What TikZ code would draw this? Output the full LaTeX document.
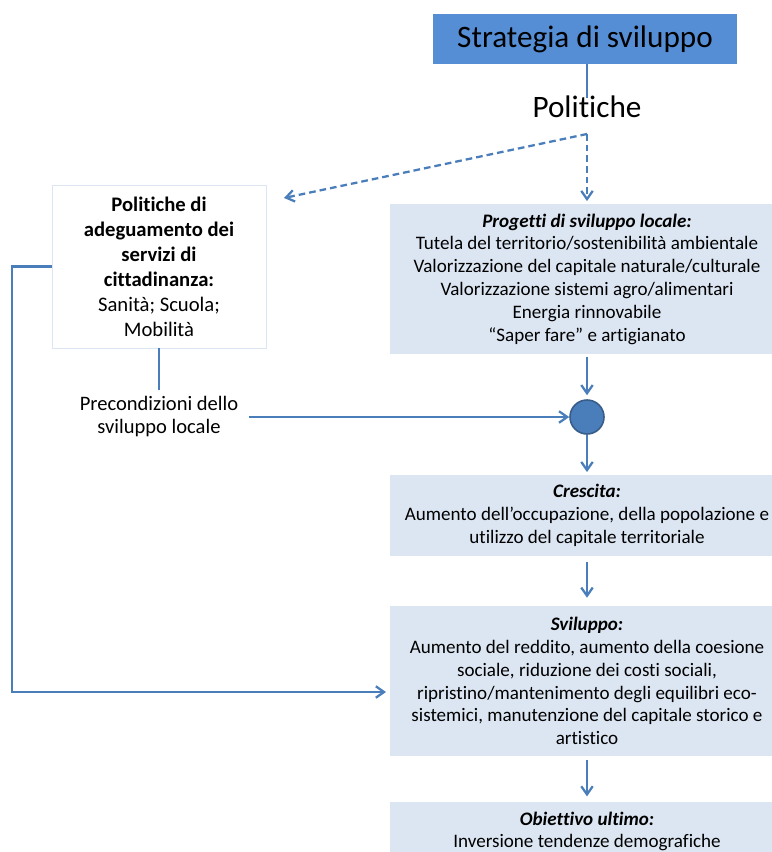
\documentclass[tikz,border=0pt]{standalone}
\usepackage{fontspec}
\setmainfont{Carlito}[Ligatures={NoCommon,NoContextual}]
\usetikzlibrary{arrows.meta}

\definecolor{blu}{RGB}{74,126,187}
\definecolor{bluscuro}{RGB}{85,142,213}
\definecolor{azzurro}{RGB}{220,230,242}
\definecolor{bordino}{RGB}{56,93,138}

\begin{document}
\begin{tikzpicture}[x=0.75pt, y=-0.75pt,
        linea/.style={draw=blu, line width=1.7pt},
        freccia/.style={linea, -{Straight Barb[angle=70:7.5pt]}},
        tratteggio/.style={freccia, dashed, dash pattern=on 5pt off 3pt},
        riquadro/.style={fill=azzurro, align=center, inner sep=0pt, minimum width=295.5pt,
            font=\fontsize{14.3}{17.1}\selectfont}]
            \useasboundingbox (0, 0) rectangle (771, 852);

            \node[fill=bluscuro, minimum width=228pt, minimum height=37.5pt, inner sep=0pt,
                font=\fontsize{23.4}{28}\selectfont] at (585, 39) (strat) {Strategia di sviluppo};
            \node[font=\fontsize{23.4}{28}\selectfont, inner sep=0pt] at (587, 107) (pol) {Politiche};
            \coordinate (bivio) at (587, 134);
            \coordinate (punta) at (284, 198);

            \node[draw=azzurro, fill=white, align=center, minimum width=160.5pt, minimum height=122.25pt,
                inner sep=0pt, font=\fontsize{15.5}{18.75}\selectfont] at (159, 266.5) (adeg)
                {\textbf{Politiche di}\\\textbf{adeguamento dei}\\\textbf{servizi di}\\\textbf{cittadinanza:}\\Sanità; Scuola;\\Mobilità};
            \node[align=center, inner sep=0pt, font=\fontsize{15.4}{17.25}\selectfont] at (159, 417) (precond)
                {Precondizioni dello\\sviluppo locale};
            \coordinate (angolo) at (12, 692);
            \coordinate (ingresso) at (386, 692);

            \node[riquadro, minimum height=112.5pt] at (587, 279) (progetti)
                {\textbf{\textit{Progetti di sviluppo locale:}}\\Tutela del territorio/sostenibilità ambientale\\Valorizzazione del capitale naturale/culturale\\Valorizzazione sistemi agro/alimentari\\Energia rinnovabile\\“Saper fare” e artigianato};
            \node[circle, fill=blu, draw=bordino, line width=1.2pt, minimum size=25.5pt, inner sep=0pt]
                at (587, 417) (pallino) {};
            \node[riquadro, minimum height=60.75pt] at (587, 515.5) (crescita)
                {\textbf{\textit{Crescita:}}\\Aumento dell’occupazione, della popolazione e\\utilizzo del capitale territoriale};
            \node[riquadro, minimum height=112.5pt] at (587, 681) (sviluppo)
                {\textbf{\textit{Sviluppo:}}\\Aumento del reddito, aumento della coesione\\sociale, riduzione dei costi sociali,\\ripristino/mantenimento degli equilibri eco-\\sistemici, manutenzione del capitale storico e\\artistico};
            \node[riquadro, minimum height=44.25pt] at (587, 831.5) (obiettivo)
                {\textbf{\textit{Obiettivo ultimo:}}\\Inversione tendenze demografiche};

            \draw[linea] (strat.south -| pol) -- ([yshift=-2pt]pol.north);
            \draw[tratteggio] (bivio) -- (punta);
            \draw[tratteggio] (bivio) -- ([yshift=2pt]progetti.north);

            \draw[linea] (adeg) -- ([yshift=5pt]precond.north);
            \draw[freccia] ([xshift=8pt]precond.east) -- (pallino);
            \draw[freccia] (adeg.west) -| (angolo) -- (ingresso);

            \draw[freccia] ([yshift=-2pt]progetti.south) -- ([yshift=3pt]pallino.north);
            \draw[freccia] (pallino) -- ([yshift=2pt]crescita.north);
            \draw[freccia] ([yshift=-4pt]crescita.south) -- ([yshift=6pt]sviluppo.north);
            \draw[freccia] ([yshift=-3pt]sviluppo.south) -- ([yshift=4pt]obiettivo.north);
        \end{tikzpicture}
\end{document}
